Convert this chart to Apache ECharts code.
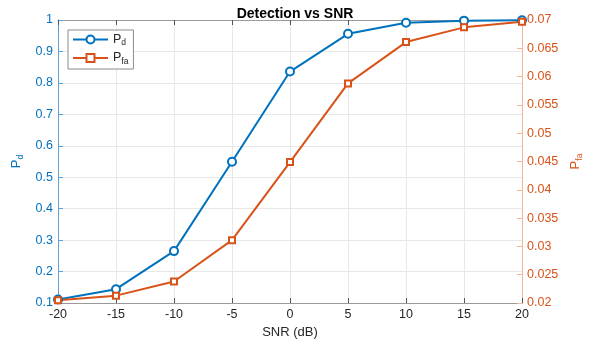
<!DOCTYPE html>
<html><head><meta charset="utf-8">
<script src="https://cdn.jsdelivr.net/npm/echarts@6/dist/echarts.min.js"></script>
<style>html,body{margin:0;padding:0;background:#fff}#c{width:595px;height:344px}</style>
</head><body><div id="c"></div>
<script>
var snr = [-20, -15, -10, -5, 0, 5, 10, 15, 20];
var pd = [0.111, 0.144, 0.265, 0.549, 0.836, 0.956, 0.991, 0.998, 0.999];
var pfa = [0.0205, 0.0213, 0.0238, 0.0311, 0.0449, 0.0588, 0.0661, 0.0687, 0.0697];

var FONT = "'Liberation Sans', Arial, Helvetica, sans-serif";
var BLUE = '#0072BD', ORANGE = '#D95319';
var chart = echarts.init(document.getElementById('c'), null, {renderer: 'canvas'});
var subRich = function (col, big) {
  return {
    p: {fontSize: big, color: col, fontFamily: FONT},
    s: {fontSize: 8.5, color: col, fontFamily: FONT, padding: [7, 0, 0, 0]}
  };
};
chart.setOption({
  animation: false,
  backgroundColor: '#fff',
  title: {
    text: 'Detection vs SNR', left: 290, top: 2, textAlign: 'center',
    textStyle: {fontFamily: FONT, fontSize: 14, fontWeight: 'bold', color: '#000'}
  },
  grid: {left: 58, right: 73, top: 20, bottom: 41, containLabel: false},
  legend: {
    left: 68, top: 30, orient: 'vertical',
    itemWidth: 35, itemHeight: 10, itemGap: 4,
    padding: [3, 5, 3, 4],
    borderColor: '#8c8c8c', borderWidth: 1, backgroundColor: '#fff',
    data: ['Pd', 'Pfa'],
    formatter: function (n) { return n === 'Pd' ? '{p|P}{s|d}' : '{p|P}{s|fa}'; },
    textStyle: {fontFamily: FONT, fontSize: 12.5, color: '#262626', rich: subRich('#262626', 12.5)}
  },
  xAxis: [{
    type: 'value', min: -20, max: 20, interval: 5, position: 'bottom',
    name: 'SNR (dB)', nameLocation: 'middle', nameGap: 23,
    nameTextStyle: {fontFamily: FONT, fontSize: 13, color: '#262626'},
    axisLine: {show: true, onZero: false, lineStyle: {color: '#9a9a9a', width: 1}},
    axisTick: {show: true, inside: true, length: 5, lineStyle: {color: '#555'}},
    axisLabel: {fontFamily: FONT, fontSize: 12.5, color: '#262626', margin: 5},
    splitLine: {show: true, lineStyle: {color: '#e8e8e8', width: 1}}
  }, {
    type: 'value', min: -20, max: 20, interval: 5, position: 'top',
    axisLine: {show: true, onZero: false, lineStyle: {color: '#9a9a9a', width: 1}},
    axisTick: {show: true, inside: true, length: 5, lineStyle: {color: '#555'}},
    axisLabel: {show: false}, splitLine: {show: false}
  }],
  yAxis: [{
    type: 'value', min: 0.1, max: 1, interval: 0.1, position: 'left',
    name: '{p|P}{s|d}', nameLocation: 'middle', nameGap: 28, nameRotate: 90,
    nameTextStyle: {rich: subRich(BLUE, 13)},
    axisLine: {show: true, onZero: false, lineStyle: {color: '#5a9fd6', width: 1}},
    axisTick: {show: true, inside: true, length: 5, lineStyle: {color: '#5a9fd6'}},
    axisLabel: {fontFamily: FONT, fontSize: 12.5, color: BLUE, margin: 5,
      formatter: function (v) { return +v.toFixed(2) + ''; }},
    splitLine: {show: true, lineStyle: {color: '#e8e8e8', width: 1}}
  }, {
    type: 'value', min: 0.02, max: 0.07, interval: 0.005, position: 'right',
    name: '{p|P}{s|fa}', nameLocation: 'middle', nameGap: 41, nameRotate: 90,
    nameTextStyle: {rich: subRich(ORANGE, 13)},
    axisLine: {show: true, onZero: false, lineStyle: {color: '#f2b896', width: 1}},
    axisTick: {show: true, inside: true, length: 5, lineStyle: {color: '#f2b896'}},
    axisLabel: {fontFamily: FONT, fontSize: 12.5, color: ORANGE, margin: 5,
      formatter: function (v) { return +v.toFixed(4) + ''; }},
    splitLine: {show: false}
  }],
  series: [{
    name: 'Pd', type: 'line', xAxisIndex: 0, yAxisIndex: 0,
    data: snr.map(function (x, i) { return [x, pd[i]]; }),
    symbol: 'emptyCircle', symbolSize: 8, color: BLUE,
    lineStyle: {width: 2, color: BLUE},
    itemStyle: {color: BLUE, borderWidth: 2, borderColor: BLUE}
  }, {
    name: 'Pfa', type: 'line', xAxisIndex: 0, yAxisIndex: 1,
    data: snr.map(function (x, i) { return [x, pfa[i]]; }),
    symbol: 'emptyRect', symbolSize: 6, color: ORANGE,
    lineStyle: {width: 2, color: ORANGE},
    itemStyle: {color: ORANGE, borderWidth: 1.5, borderColor: ORANGE}
  }]
});
</script></body></html>
